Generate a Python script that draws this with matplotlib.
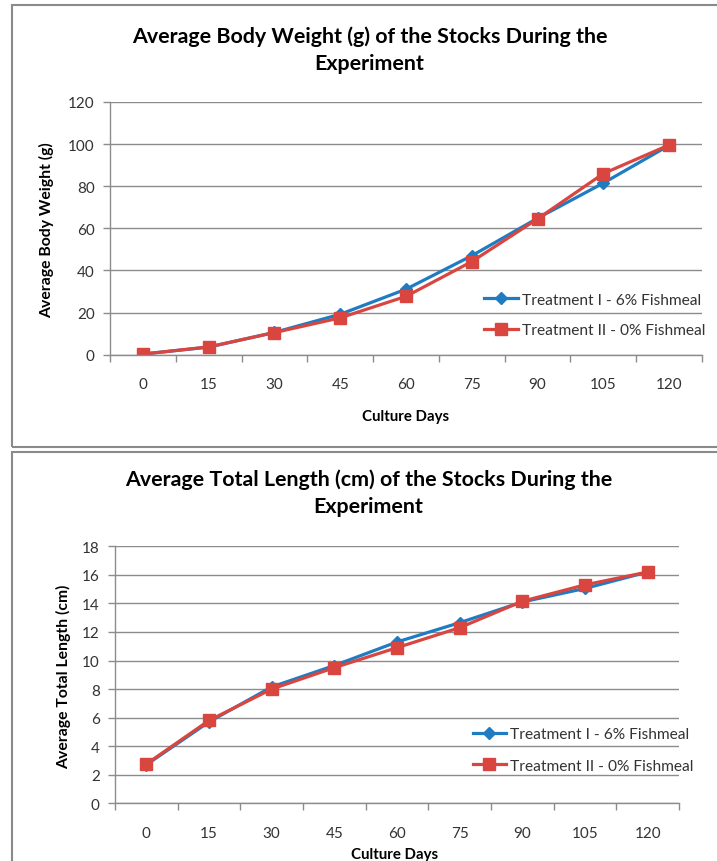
import matplotlib
matplotlib.use("Agg")
import matplotlib.pyplot as plt
from matplotlib.patches import Rectangle

plt.rcParams['font.family'] = ['Lato', 'DejaVu Sans']

# Data
days = [0, 15, 30, 45, 60, 75, 90, 105, 120]
weight_t1 = [0.3, 3.6, 10.6, 19.2, 31.1, 47.0, 64.8, 81.5, 99.4]
weight_t2 = [0.3, 3.7, 10.5, 17.5, 27.7, 44.2, 64.5, 86.0, 99.6]
length_t1 = [2.7, 5.7, 8.15, 9.65, 11.3, 12.65, 14.1, 15.05, 16.2]
length_t2 = [2.75, 5.8, 8.0, 9.5, 10.9, 12.3, 14.15, 15.3, 16.2]
series_labels = ["Treatment I - 6% Fishmeal", "Treatment II - 0% Fishmeal"]
weight_ticks = [0, 20, 40, 60, 80, 100, 120]
length_ticks = [0, 2, 4, 6, 8, 10, 12, 14, 16, 18]

W, H = 717, 862
BLUE = "#1F7CC3"
RED = "#D94640"
GRID = "#8C8C8C"
TXT = "#333333"

fig = plt.figure(figsize=(W / 100, H / 100), dpi=100)
fig.patch.set_facecolor("white")


def fx(px):
    return px / W


def fy(py):
    return 1 - py / H


# Panel frames
for (x0, y0, x1, y1) in [(12, 6, 740, 447.5), (12, 453, 740, 900)]:
    fig.patches.append(Rectangle((fx(x0), fy(y1)), fx(x1) - fx(x0), fy(y0) - fy(y1),
                                 transform=fig.transFigure, fill=False,
                                 edgecolor="#8A8A8A", linewidth=1.5, zorder=0))


def panel(box, ys1, ys2, yticks, title, ylabel, title_pos, ylab_pos, xlab_pos,
          leg_pos, hlen, lspace):
    left, top, right, bottom = box
    ax = fig.add_axes([fx(left), fy(bottom), fx(right) - fx(left), fy(top) - fy(bottom)])
    x = list(range(len(days)))
    ax.plot(x, ys1, color=BLUE, lw=2.3, marker="D", ms=6, mec=BLUE, mfc=BLUE,
            label=series_labels[0], zorder=3)
    ax.plot(x, ys2, color=RED, lw=2.3, marker="s", ms=9, mec=RED, mfc=RED,
            label=series_labels[1], zorder=4)
    ax.set_xlim(-0.5, len(days) - 0.5)
    ax.set_ylim(yticks[0], yticks[-1])
    ax.set_yticks(yticks)
    ax.set_yticklabels([str(t) for t in yticks])
    ax.set_xticks(x)
    ax.set_xticklabels([str(d) for d in days])
    ax.set_xticks([i - 0.5 for i in range(len(days) + 1)], minor=True)
    ax.tick_params(axis="x", which="major", length=0, pad=16, labelsize=11, labelcolor=TXT)
    ax.tick_params(axis="x", which="minor", length=5, width=1, color=GRID, direction="out")
    ax.tick_params(axis="y", length=5, width=1, color=GRID, direction="out",
                   labelsize=11, labelcolor=TXT, pad=6)
    ax.grid(axis="y", color=GRID, lw=1)
    ax.set_axisbelow(True)
    for s in ["top", "right"]:
        ax.spines[s].set_visible(False)
    for s in ["left", "bottom"]:
        ax.spines[s].set_color(GRID)
        ax.spines[s].set_linewidth(1)
    ax.spines["bottom"].set_zorder(5)

    fig.text(fx(title_pos[0]), fy(title_pos[1]), title, ha="center", va="center",
             fontsize=15.4, fontweight="bold", color="black", linespacing=1.42)
    fig.text(fx(ylab_pos[0]), fy(ylab_pos[1]), ylabel, ha="center", va="center",
             rotation=90, fontsize=11.3, fontweight="bold", color="black")
    fig.text(fx(xlab_pos[0]), fy(xlab_pos[1]), "Culture Days", ha="center", va="center",
             fontsize=10.8, fontweight="bold", color="black")
    fig.legend(loc="center left", bbox_to_anchor=(fx(leg_pos[0]), fy(leg_pos[1])),
               frameon=False, fontsize=11.2, handlelength=hlen, handletextpad=0.26,
               labelspacing=lspace, borderpad=0, borderaxespad=0,
               handles=ax.get_lines(), labelcolor=TXT)
    return ax


panel((110, 103, 702, 355.7), weight_t1, weight_t2, weight_ticks,
      "Average Body Weight (g) of the Stocks During the\nExperiment",
      "Average Body Weight (g)",
      (369.5, 50), (47, 230), (406, 417), (484, 316), 2.18, 1.05)

panel((115, 547.3, 679, 804.3), length_t1, length_t2, length_ticks,
      "Average Total Length (cm) of the Stocks During the\nExperiment",
      "Average Total Length (cm)",
      (368.5, 493), (64, 677), (395, 855), (473, 751), 2.12, 1.12)

fig.savefig("out.png", dpi=100, facecolor="white")
